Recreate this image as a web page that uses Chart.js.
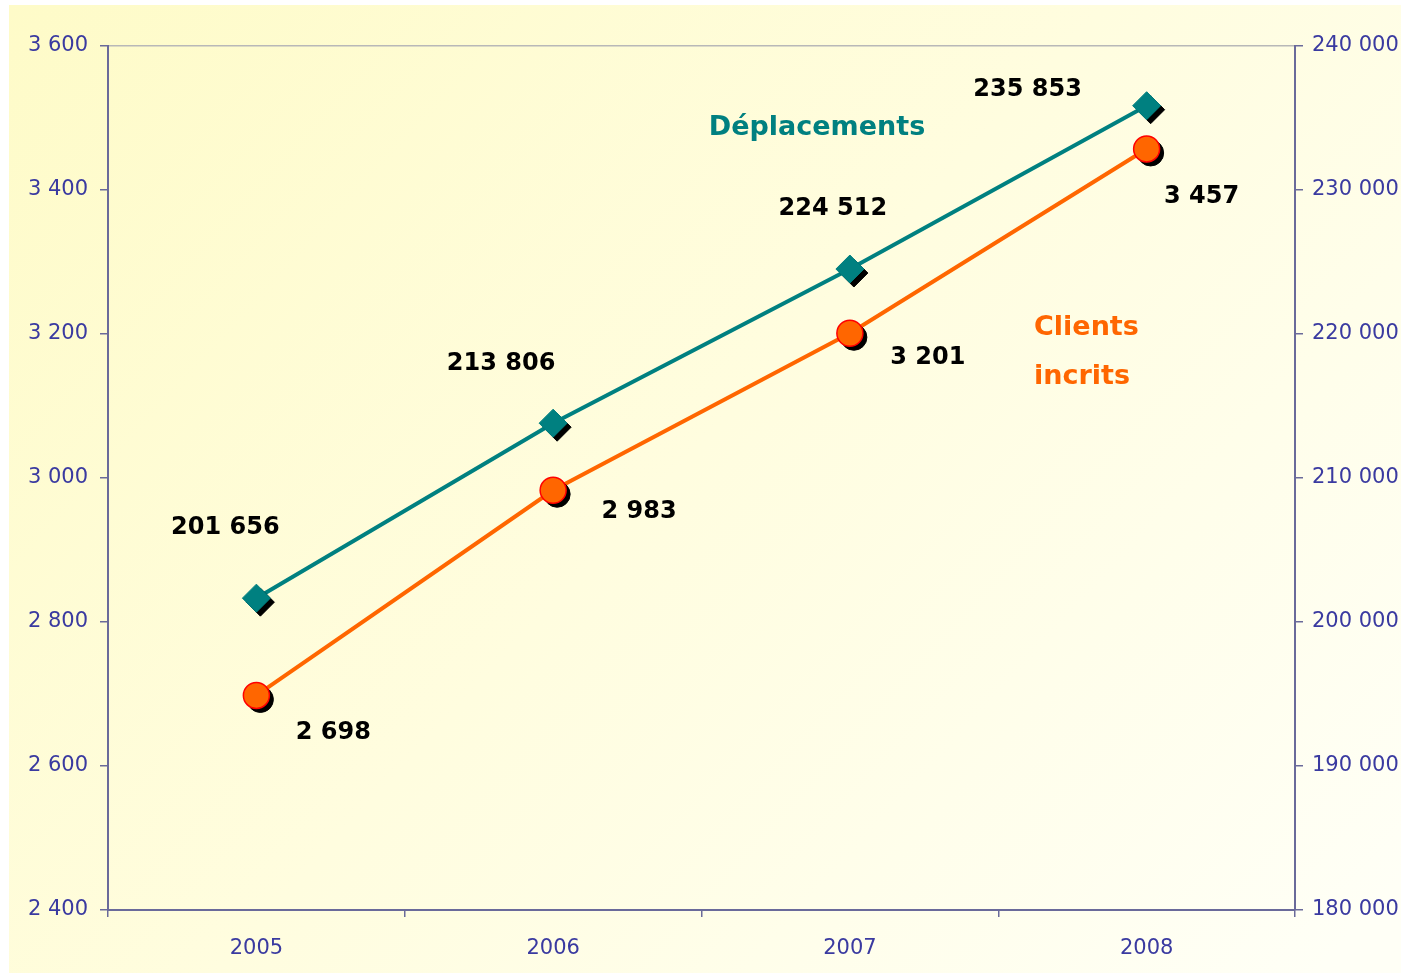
<!DOCTYPE html>
<html>
<head>
<meta charset="utf-8">
<script src="https://cdn.jsdelivr.net/npm/chart.js@4/dist/chart.umd.min.js"></script>
<style>
html,body{margin:0;padding:0;background:#fff;}
#wrap{width:1408px;height:976px;position:relative;}
</style>
</head>
<body>
<div id="wrap"><canvas id="c" width="1408" height="976"></canvas></div>
<script>
const categories = ['2005', '2006', '2007', '2008'];
const deplacements = [201656, 213806, 224512, 235853];
const clients = [2698, 2983, 3201, 3457];
const leftTicks = [2400, 2600, 2800, 3000, 3200, 3400, 3600];
const rightTicks = [180000, 190000, 200000, 210000, 220000, 230000, 240000];
const seriesNames = ['Déplacements', 'Clients incrits'];

const fmt = v => String(v).replace(/\B(?=(\d{3})+(?!\d))/g, ' ');

const TEAL = '#008080';
const ORANGE = '#FF6600';
const AXIS = '#6A6A9A';
const TICKTXT = '#3A3AA0';

// label offsets (layout only)
const deplOffsets = [[-31,-70],[-52,-59],[-17,-60],[-119,-16]];
const cliOffsets = [[77,37],[86,22],[78,24],[55,48]];

const bgPlugin = {
  id: 'bg',
  beforeDraw(chart) {
    const ctx = chart.ctx;
    ctx.save();
    ctx.fillStyle = '#ffffff';
    ctx.fillRect(0, 0, chart.width, chart.height);
    const g = ctx.createLinearGradient(9, 5, 1200, 1100);
    g.addColorStop(0, '#FEFBC8');
    g.addColorStop(0.5, '#FFFDDF');
    g.addColorStop(1, '#FFFFF6');
    ctx.fillStyle = g;
    ctx.fillRect(9, 5, 1392, 968);
    ctx.restore();
  }
};

const shadowPlugin = {
  id: 'shadow',
  beforeDatasetDraw(chart, args) {
    const ds = chart.data.datasets[args.index];
    if (!ds.isPoints) return;
    const ctx = chart.ctx;
    ctx.save();
    ctx.fillStyle = '#000';
    ctx.strokeStyle = '#000';
    args.meta.data.forEach(p => {
      const o = p.options;
      Chart.helpers.drawPoint(ctx, { pointStyle: o.pointStyle, radius: o.radius, rotation: 0, borderWidth: o.borderWidth }, p.x + 4, p.y + 4);
    });
    ctx.restore();
  }
};

const labelPlugin = {
  id: 'labels',
  afterDatasetsDraw(chart) {
    const ctx = chart.ctx;
    ctx.save();
    ctx.textAlign = 'center';
    ctx.textBaseline = 'middle';
    ctx.fillStyle = '#000';
    ctx.font = 'bold 24px "DejaVu Sans"';
    const m0 = chart.getDatasetMeta(0);
    m0.data.forEach((p, i) => {
      ctx.fillText(fmt(deplacements[i]), p.x + deplOffsets[i][0], p.y + deplOffsets[i][1]);
    });
    const m1 = chart.getDatasetMeta(1);
    m1.data.forEach((p, i) => {
      ctx.fillText(fmt(clients[i]), p.x + cliOffsets[i][0], p.y + cliOffsets[i][1]);
    });
    ctx.font = 'bold 27px "DejaVu Sans"';
    ctx.fillStyle = TEAL;
    ctx.fillText(seriesNames[0], 817, 128);
    ctx.fillStyle = ORANGE;
    ctx.textAlign = 'left';
    const parts = seriesNames[1].split(' ');
    ctx.fillText(parts[0], 1034, 328);
    ctx.fillText(parts[1], 1034, 377);
    ctx.restore();
  }
};

new Chart(document.getElementById('c'), {
  type: 'line',
  data: {
    labels: categories,
    datasets: [
      { label: seriesNames[0] + ' pts', data: deplacements, yAxisID: 'y1', showLine: false, isPoints: true,
        pointStyle: 'rectRot', pointRadius: 14, pointHoverRadius: 14, pointBackgroundColor: TEAL, pointBorderColor: TEAL, pointBorderWidth: 1, order: 0 },
      { label: seriesNames[1] + ' pts', data: clients, yAxisID: 'y', showLine: false, isPoints: true,
        pointStyle: 'circle', pointRadius: 13, pointHoverRadius: 13, pointBackgroundColor: ORANGE, pointBorderColor: '#FF0000', pointBorderWidth: 1.5, order: 0 },
      { label: seriesNames[0], data: deplacements, yAxisID: 'y1', borderColor: TEAL, borderWidth: 4, pointRadius: 0, tension: 0, order: 2 },
      { label: seriesNames[1], data: clients, yAxisID: 'y', borderColor: ORANGE, borderWidth: 4, pointRadius: 0, tension: 0, order: 2 }
    ]
  },
  options: {
    responsive: false,
    animation: false,
    events: [],
    layout: { padding: { top: 46, left: 0, right: 0, bottom: 0 } },
    plugins: { legend: { display: false }, tooltip: { enabled: false } },
    scales: {
      x: {
        offset: true,
        grid: { offset: true, drawOnChartArea: false, color: AXIS, tickLength: 7, lineWidth: 1.5 },
        border: { color: AXIS, width: 2 },
        ticks: { color: TICKTXT, font: { family: '"DejaVu Sans"', size: 21 }, padding: 19 },
        afterFit(s) { s.height = 66; }
      },
      y: {
        position: 'left',
        min: 2400, max: 3600,
        afterBuildTicks(s) { s.ticks = leftTicks.map(v => ({ value: v })); },
        grid: {
          drawOnChartArea: true,
          color: c => (c.tick && c.tick.value === 3600) ? '#B8B8B8' : 'rgba(0,0,0,0)',
          tickColor: AXIS, tickLength: 8, lineWidth: 1.5
        },
        border: { color: AXIS, width: 2 },
        ticks: { color: TICKTXT, font: { family: '"DejaVu Sans"', size: 21 }, padding: 12, callback: v => fmt(v) },
        afterFit(s) { s.width = 108; }
      },
      y1: {
        position: 'right',
        min: 180000, max: 240000,
        afterBuildTicks(s) { s.ticks = rightTicks.map(v => ({ value: v })); },
        grid: { drawOnChartArea: false, color: AXIS, tickLength: 8, lineWidth: 1.5 },
        border: { color: AXIS, width: 2 },
        ticks: { color: TICKTXT, font: { family: '"DejaVu Sans"', size: 21 }, padding: 9, callback: v => fmt(v) },
        afterFit(s) { s.width = 113; }
      }
    }
  },
  plugins: [bgPlugin, shadowPlugin, labelPlugin]
});
</script>
</body>
</html>
